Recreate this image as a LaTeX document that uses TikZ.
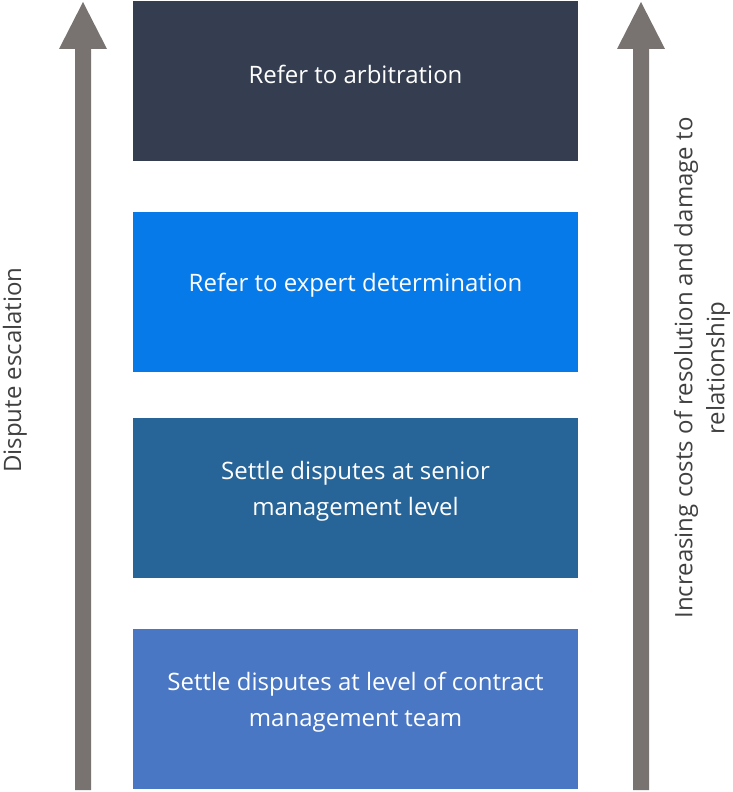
\documentclass[tikz,border=0pt]{standalone}
\usepackage{fontspec}
\setmainfont{Open Sans}
\definecolor{arrowgray}{HTML}{787371}
\definecolor{boxA}{HTML}{343E50}
\definecolor{boxB}{HTML}{077AE9}
\definecolor{boxC}{HTML}{276598}
\definecolor{boxD}{HTML}{4A77C3}
\definecolor{sidetext}{HTML}{404040}
\tikzset{
  x=1pt,y=-1pt,
  stagebox/.style={fill=#1, draw=none},
  stagetext/.style={text=white, align=center, font=\fontsize{24}{36}\selectfont, inner sep=0pt},
  sidelabel/.style={text=sidetext, align=center, rotate=90, font=\fontsize{24}{32}\selectfont, inner sep=0pt},
  bigarrow/.style={fill=arrowgray, draw=none}
}
\begin{document}
\begin{tikzpicture}
\useasboundingbox (0,0) rectangle (732,792);
% arrows
\fill[bigarrow] (75,790) -- (75,49) -- (59,49) -- (83,2) -- (107,49) -- (91,49) -- (91,790) -- cycle;
\fill[bigarrow] (633,790) -- (633,49) -- (617,49) -- (641,2) -- (665,49) -- (649,49) -- (649,790) -- cycle;
% boxes
\fill[stagebox=boxA] (133,1) rectangle (578,161);
\fill[stagebox=boxB] (133,212) rectangle (578,372);
\fill[stagebox=boxC] (133,418) rectangle (578,578);
\fill[stagebox=boxD] (133,629) rectangle (578,789);
\node[stagetext] (t1) at (355.5,74.5) {Refer to arbitration};
\node[stagetext] (t2) at (355.5,285.5) {Refer to expert determination};
\node[stagetext] (t3) at (355.5,491.5) {Settle disputes at senior\\management level};
\node[stagetext] (t4) at (355.5,702.5) {Settle disputes at level of contract\\management team};
\node[sidelabel] (l1) at (15,370) {Dispute escalation};
\node[sidelabel] (l2) at (702,368) {Increasing costs of resolution and damage to\\relationship};
\end{tikzpicture}
\end{document}
